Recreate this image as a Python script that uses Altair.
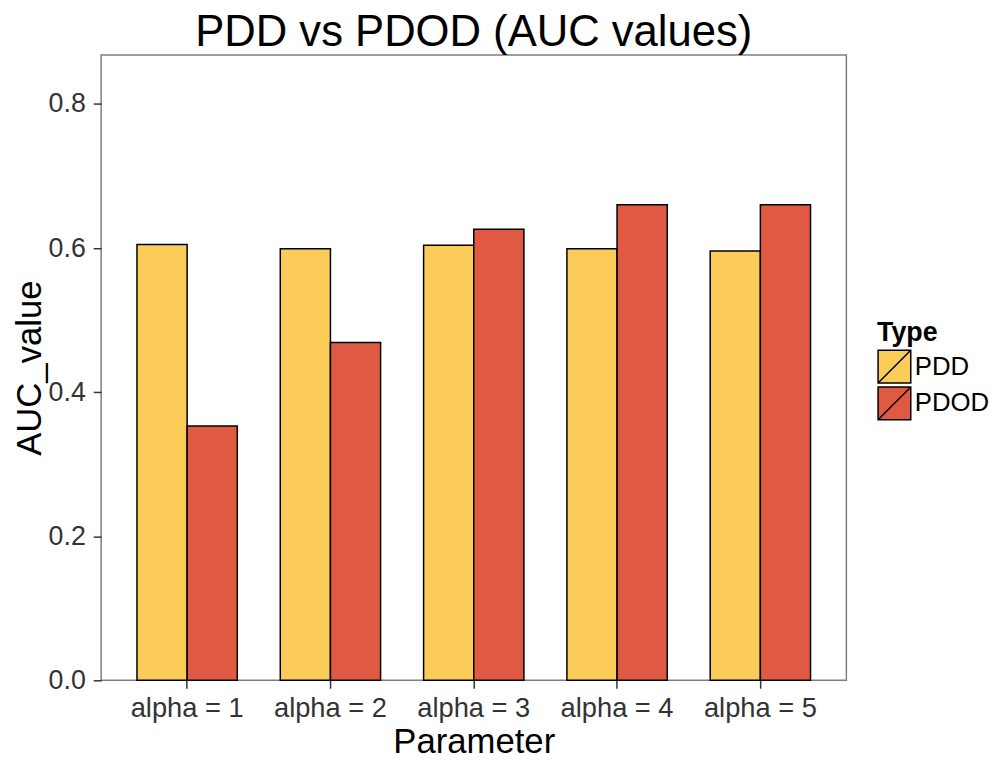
import altair as alt
import pandas as pd

parameters = ["alpha = 1", "alpha = 2", "alpha = 3", "alpha = 4", "alpha = 5"]
types = ["PDD", "PDOD"]
pdd_values = [0.605, 0.599, 0.604, 0.599, 0.596]
pdod_values = [0.353, 0.469, 0.626, 0.660, 0.660]
colors = ["#FBCD58", "#E05A43"]
y_ticks = [0.0, 0.2, 0.4, 0.6, 0.8]

rows = []
for p, a, b in zip(parameters, pdd_values, pdod_values):
    rows.append({"Parameter": p, "Type": "PDD", "AUC_value": a})
    rows.append({"Parameter": p, "Type": "PDOD", "AUC_value": b})
df = pd.DataFrame(rows)

font = "Liberation Sans"

chart = alt.Chart(df).mark_bar(stroke="black", strokeWidth=1.5).encode(
    x=alt.X("Parameter:N", sort=parameters,
            scale=alt.Scale(paddingInner=0.3, paddingOuter=0.25),
            axis=alt.Axis(title="Parameter", labelAngle=0)),
    xOffset=alt.XOffset("Type:N", sort=types,
                        scale=alt.Scale(paddingInner=0, paddingOuter=0)),
    y=alt.Y("AUC_value:Q",
            scale=alt.Scale(domain=[0, 0.868], nice=False, zero=True),
            axis=alt.Axis(title="AUC_value", values=y_ticks, format=".1f")),
    fill=alt.Fill("Type:N", sort=types,
                  scale=alt.Scale(domain=types, range=colors),
                  legend=alt.Legend(
                      title="Type", orient="none", legendX=783, legendY=268,
                      symbolType="M-1,-1H1V1H-1Z M-1,1L1,-1",
                      symbolSize=1089, symbolStrokeColor="black",
                      symbolStrokeWidth=1.5, symbolOpacity=1,
                      rowPadding=-20, labelOffset=3,
                      titleFontSize=27, titleFontWeight="bold", titleColor="black",
                      titleFont=font, titlePadding=2,
                      labelFontSize=26, labelFont=font, labelColor="black")),
).properties(
    width=752, height=631,
    title=alt.TitleParams("PDD vs PDOD (AUC values)", fontSize=44, font=font,
                          fontWeight="normal", color="black", offset=0),
    padding={"left": 4, "top": 0, "right": 5, "bottom": 0},
).configure_view(
    stroke="#7f7f7f", strokeWidth=1.5
).configure_axis(
    domain=False, grid=False,
    tickColor="#333333", tickSize=8, tickWidth=1.5,
    labelFont=font, labelFontSize=27, labelColor="#333333", labelPadding=8,
    titleFont=font, titleFontSize=35, titleFontWeight="normal", titleColor="black",
).configure_axisX(titlePadding=2, labelPadding=7, labelFontSize=27.5).configure_axisY(titlePadding=1)

chart.save("out.html", embed_options={"renderer": "svg", "actions": False})
